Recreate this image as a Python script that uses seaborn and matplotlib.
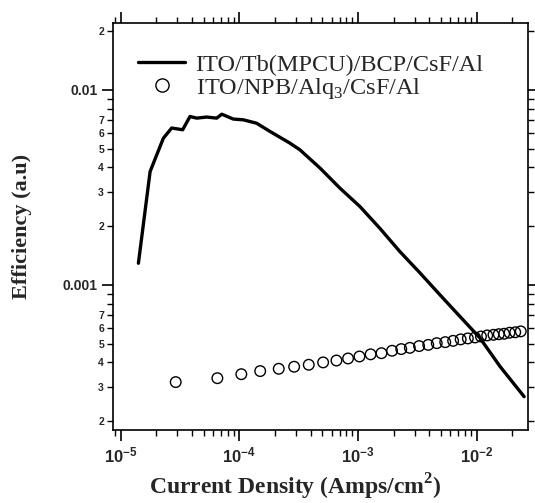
import numpy as np
import pandas as pd
import matplotlib
matplotlib.use("Agg")
import matplotlib.pyplot as plt
import seaborn as sns
from matplotlib.lines import Line2D

# Tb(MPCU) device
tb_current = [1.41e-5, 1.77e-5, 2.29e-5, 2.69e-5, 3.33e-5, 3.84e-5, 4.37e-5, 5.31e-5,
              6.45e-5, 7.11e-5, 8.90e-5, 1.08e-4, 1.40e-4, 1.82e-4, 2.67e-4, 3.25e-4,
              4.79e-4, 7.06e-4, 1.04e-3, 1.53e-3, 2.26e-3, 3.34e-3, 4.92e-3, 7.25e-3,
              1.07e-2, 1.58e-2, 2.52e-2]
tb_eff = [1.29e-3, 3.81e-3, 5.65e-3, 6.37e-3, 6.24e-3, 7.30e-3, 7.16e-3, 7.25e-3,
          7.16e-3, 7.50e-3, 7.08e-3, 7.02e-3, 6.74e-3, 6.11e-3, 5.33e-3, 4.92e-3,
          3.97e-3, 3.13e-3, 2.52e-3, 1.95e-3, 1.48e-3, 1.15e-3, 8.88e-4, 6.88e-4,
          5.33e-4, 3.81e-4, 2.67e-4]

# Alq3 device, open circles
alq_current = [2.91e-5, 6.53e-5, 1.04e-4, 1.50e-4, 2.15e-4, 2.90e-4, 3.85e-4, 5.09e-4,
               6.59e-4, 8.26e-4, 1.03e-3, 1.28e-3, 1.58e-3, 1.94e-3, 2.32e-3, 2.74e-3,
               3.28e-3, 3.92e-3, 4.62e-3, 5.45e-3, 6.35e-3, 7.35e-3, 8.45e-3, 9.71e-3,
               1.09e-2, 1.23e-2, 1.39e-2, 1.54e-2, 1.71e-2, 1.90e-2, 2.12e-2, 2.36e-2]
alq_eff = [3.17e-4, 3.32e-4, 3.48e-4, 3.61e-4, 3.71e-4, 3.80e-4, 3.89e-4, 4.00e-4,
           4.09e-4, 4.19e-4, 4.29e-4, 4.40e-4, 4.46e-4, 4.59e-4, 4.68e-4, 4.75e-4,
           4.85e-4, 4.92e-4, 5.02e-4, 5.08e-4, 5.16e-4, 5.25e-4, 5.31e-4, 5.37e-4,
           5.43e-4, 5.50e-4, 5.54e-4, 5.58e-4, 5.61e-4, 5.68e-4, 5.71e-4, 5.77e-4]

labels = ["ITO/Tb(MPCU)/BCP/CsF/Al", "ITO/NPB/Alq$_3$/CsF/Al"]
x_major = [1e-5, 1e-4, 1e-3, 1e-2]
x_major_labels = [r"$\mathsf{10^{-5}}$", r"$\mathsf{10^{-4}}$",
                  r"$\mathsf{10^{-3}}$", r"$\mathsf{10^{-2}}$"]
y_major = [1e-3, 1e-2]
y_major_labels = ["0.001", "0.01"]

sns.set_style("ticks")
plt.rcParams["font.family"] = ["Liberation Serif", "DejaVu Serif"]
plt.rcParams["mathtext.fontset"] = "custom"
plt.rcParams["mathtext.rm"] = "Liberation Serif"
plt.rcParams["mathtext.bf"] = "Liberation Serif:bold"
plt.rcParams["mathtext.sf"] = "Liberation Sans:bold"

tb = pd.DataFrame({"current": tb_current, "eff": tb_eff})
alq = pd.DataFrame({"current": alq_current, "eff": alq_eff})

fig = plt.figure(figsize=(5.35, 5.03), dpi=100)
ax = fig.add_axes([0.2112, 0.1451, 0.7757, 0.8098])
ax.set(xscale="log", yscale="log")

sns.lineplot(data=tb, x="current", y="eff", ax=ax, color="black", lw=2.4,
             sort=False, estimator=None)
sns.scatterplot(data=alq, x="current", y="eff", ax=ax, marker="o", s=58,
                facecolor="none", edgecolor="black", linewidth=1.0)

# x ticks
ax.set_xticks(x_major, x_major_labels)
x_minor = [m * 10.0 ** e for e in range(-6, -1) for m in range(2, 10)]
ax.set_xticks(x_minor, minor=True)
ax.set_xticklabels([], minor=True)

# y ticks: mantissas 2-7 labelled, 8 and 9 not
ax.set_yticks(y_major, y_major_labels)
y_minor, y_minor_labels = [], []
for e in (-4, -3, -2):
    for m in range(2, 10):
        y_minor.append(m * 10.0 ** e)
        y_minor_labels.append(str(m) if m <= 7 else "")
ax.set_yticks(y_minor, y_minor_labels, minor=True)
ax.set_xlim(10 ** -5.065, 10 ** -1.566)
ax.set_ylim(1.80e-4, 0.0221)

ax.tick_params(which="both", direction="out", top=True, right=True, color="black")
ax.tick_params(which="major", length=8, width=1.2)
ax.tick_params(which="minor", length=4.5, width=1.0)
ax.tick_params(axis="x", which="major", labelsize=12, pad=4)
ax.tick_params(axis="y", which="major", labelsize=10, pad=3)
ax.tick_params(axis="y", which="minor", labelsize=7.5, pad=2)
for lab in ax.get_yticklabels(which="both"):
    lab.set_fontfamily("Liberation Sans")
    lab.set_fontweight("bold")

for sp in ax.spines.values():
    sp.set_color("black")
    sp.set_linewidth(1.2)

ax.set_xlabel("Current Density (Amps/cm$^{\\mathbf{2}}$)", fontsize=17, fontweight="bold")
ax.xaxis.set_label_coords(0.44, -0.103)
ax.set_ylabel("Efficiency (a.u)", fontsize=16, fontweight="bold", labelpad=22)

handles = [Line2D([], [], color="black", lw=2.4),
           Line2D([], [], ls="none", marker="o", ms=9.5, mfc="none", mec="black", mew=1.0)]
ax.legend(handles, labels, loc="upper left", bbox_to_anchor=(0.038, 0.948),
          frameon=False, fontsize=17.5, handlelength=1.9, handletextpad=0.45,
          labelspacing=0.0, borderaxespad=0)

fig.savefig("out.png", dpi=100)
